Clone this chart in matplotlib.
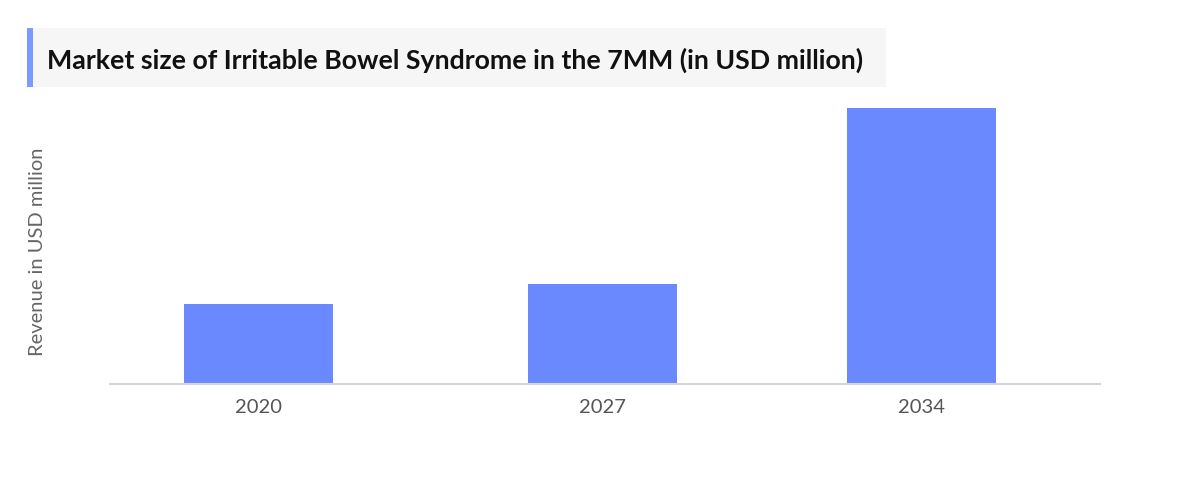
import matplotlib
matplotlib.use("Agg")
from matplotlib import pyplot as plt
from matplotlib.patches import Rectangle

# data (USD million)
years = ["2020", "2027", "2034"]
revenue = [2890, 3610, 10000]

title = "Market size of Irritable Bowel Syndrome in the 7MM (in USD million)"
ylabel = "Revenue in USD million"

BAR_COLOR = "#6b89ff"
ACCENT = "#7b9bff"
W, H = 1200, 480

fig = plt.figure(figsize=(12, 4.8), dpi=100)

# axes: x from 110 to 1100 px, y from 383 (baseline) up to 100
ax = fig.add_axes([110 / W, (H - 383.5) / H, 990 / W, 283.5 / H])
slots = [148.5, 492.5, 811.5]  # bar centre offsets in px along the axis
ax.bar(slots, revenue, width=149, color=BAR_COLOR, zorder=2)
ax.set_xlim(0, 990)
ax.set_ylim(0, max(revenue) * 283.5 / 275.5)

ax.set_xticks(slots)
ax.set_xticklabels(years, fontsize=14.5, color="#555555", family="Lato")
ax.tick_params(axis="x", length=0, pad=11)
ax.set_yticks([])
for s in ["top", "right", "left"]:
    ax.spines[s].set_visible(False)
ax.spines["bottom"].set_color("#d6d6d6")
ax.spines["bottom"].set_linewidth(1.5)

fig.text(38 / W, 1 - 252 / H, ylabel, rotation=90, ha="center", va="center",
         fontsize=14.5, color="#666666", family="Lato")

# title box
fig.patches.append(Rectangle((27 / W, 1 - 87 / H), 859 / W, 59 / H,
                             transform=fig.transFigure, facecolor="#f6f6f6",
                             edgecolor="none", zorder=0))
fig.patches.append(Rectangle((27 / W, 1 - 87 / H), 6 / W, 59 / H,
                             transform=fig.transFigure, facecolor=ACCENT,
                             edgecolor="none", zorder=1))
fig.text(47 / W, 1 - 60 / H, title, ha="left", va="center", fontsize=19.3,
         fontweight="bold", color="#111111", family="Lato")

fig.savefig("out.png", dpi=100)
